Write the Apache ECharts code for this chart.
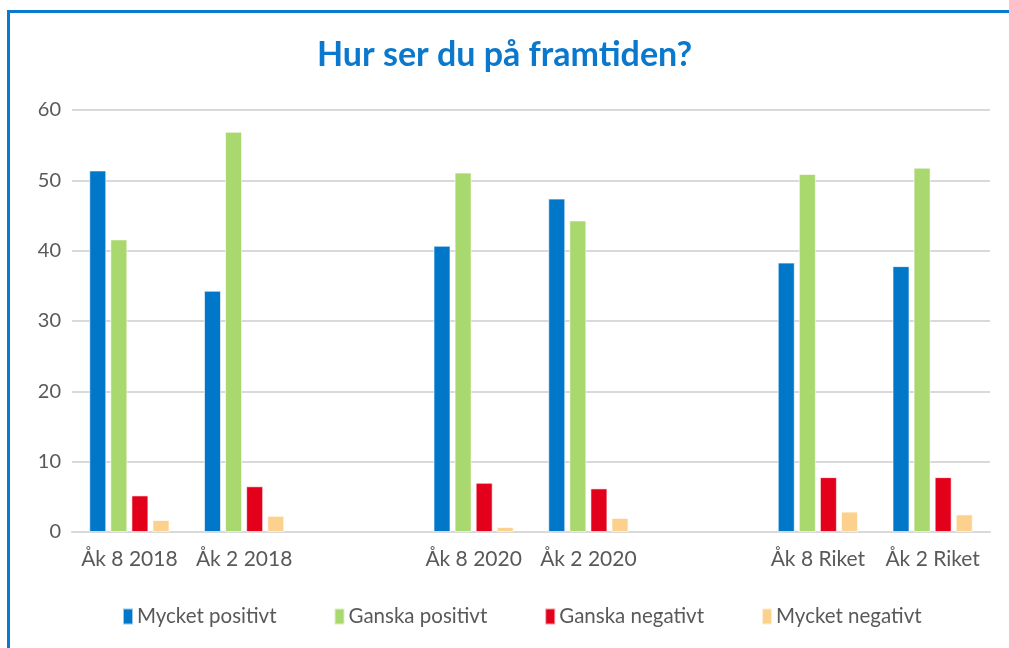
<!DOCTYPE html>
<html>
<head>
<meta charset="utf-8">
<script src="https://cdn.jsdelivr.net/npm/echarts@6/dist/echarts.min.js"></script>
<style>
  html, body { margin: 0; padding: 0; background: #fff; overflow: hidden; }
  #frame { position: absolute; left: 7px; top: 10px; width: 1100px; height: 700px;
           border: 3px solid #0a7ad0; box-sizing: border-box; }
  #chart { position: absolute; left: 0; top: 0; width: 1009px; height: 648px; }
</style>
</head>
<body>
<div id="frame"></div>
<div id="chart"></div>
<script>
// Groups with a blank slot between each pair
const categories = ['Åk 8 2018', 'Åk 2 2018', '', 'Åk 8 2020', 'Åk 2 2020', '', 'Åk 8 Riket', 'Åk 2 Riket'];
const mycketPositivt = [51.4, 34.3, null, 40.7, 47.4, null, 38.3, 37.8];
const ganskaPositivt = [41.6, 56.9, null, 51.1, 44.3, null, 50.9, 51.8];
const ganskaNegativt = [5.2, 6.5, null, 7.0, 6.2, null, 7.8, 7.8];
const mycketNegativt = [1.7, 2.3, null, 0.7, 2.0, null, 2.9, 2.5];
const seriesNames = ['Mycket positivt', 'Ganska positivt', 'Ganska negativt', 'Mycket negativt'];
const colors = ['#0077c8', '#a9d86e', '#e3001b', '#fcd18e'];

const font = 'Lato, "Noto Sans", sans-serif';
const chart = echarts.init(document.getElementById('chart'), null, { renderer: 'canvas' });

const mk = (name, data, i) => ({
  name, type: 'bar', data,
  barWidth: 17, barGap: '24%',
  itemStyle: { color: colors[i], borderColor: 'rgba(255,255,255,0.6)', borderWidth: 1 }
});

chart.setOption({
  animation: false,
  color: colors,
  title: {
    text: 'Hur ser du på framtiden?', left: 'center', top: 33,
    padding: [5, 5, 5, 25],
    textStyle: { color: '#0a78cc', fontSize: 34, fontWeight: 'bold', fontFamily: font }
  },
  legend: {
    bottom: 16, left: 117, itemGap: 57, itemWidth: 10, itemHeight: 16,
    icon: 'rect',
    textStyle: { color: '#595959', fontSize: 20.5, fontFamily: font, padding: [0, 0, 0, -1] }
  },
  grid: { left: 72, right: 19, top: 110, bottom: 116 },
  xAxis: {
    type: 'category', data: categories,
    axisTick: { show: false },
    axisLine: { lineStyle: { color: '#d9d9d9', width: 2 } },
    axisLabel: { interval: 0, color: '#595959', fontSize: 21, fontFamily: font, margin: 17 }
  },
  yAxis: {
    type: 'value', min: 0, max: 60, interval: 10,
    axisLine: { show: false }, axisTick: { show: false },
    splitLine: { lineStyle: { color: '#d9d9d9', width: 2 } },
    axisLabel: { color: '#595959', fontSize: 20, fontFamily: font, margin: 11 }
  },
  series: [
    mk(seriesNames[0], mycketPositivt, 0),
    mk(seriesNames[1], ganskaPositivt, 1),
    mk(seriesNames[2], ganskaNegativt, 2),
    mk(seriesNames[3], mycketNegativt, 3)
  ]
});
</script>
</body>
</html>
